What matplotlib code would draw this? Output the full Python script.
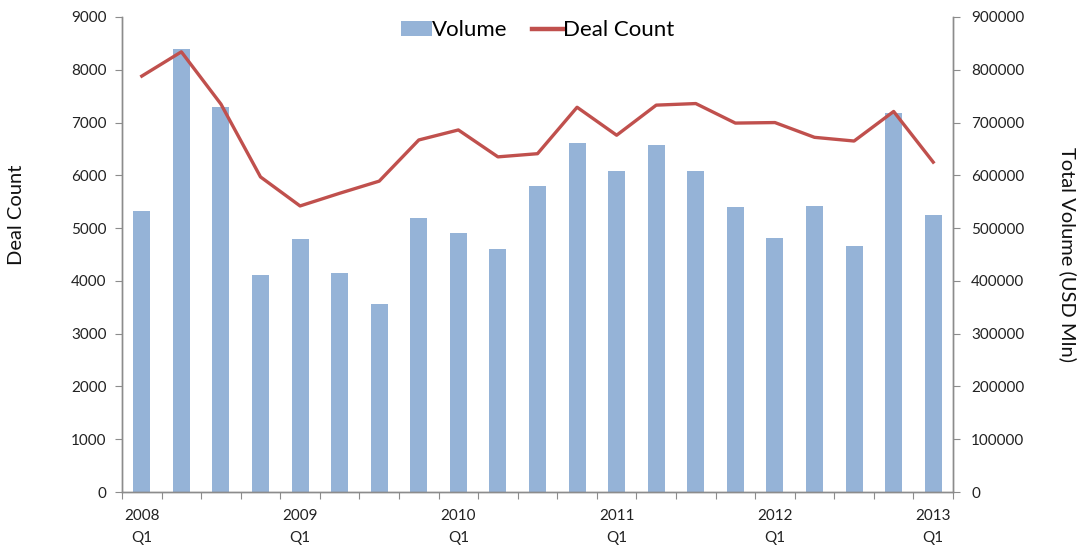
import matplotlib
matplotlib.use("Agg")
import matplotlib.pyplot as plt
from matplotlib.lines import Line2D
from matplotlib.patches import Patch
import numpy as np

plt.rcParams['font.family'] = ['Lato', 'DejaVu Sans']

quarters = ["2008 Q1", "2008 Q2", "2008 Q3", "2008 Q4",
            "2009 Q1", "2009 Q2", "2009 Q3", "2009 Q4",
            "2010 Q1", "2010 Q2", "2010 Q3", "2010 Q4",
            "2011 Q1", "2011 Q2", "2011 Q3", "2011 Q4",
            "2012 Q1", "2012 Q2", "2012 Q3", "2012 Q4",
            "2013 Q1"]
volume = [532000, 840000, 730000, 411000, 479000, 415000, 357000, 520000,
          490000, 461000, 580000, 661000, 608000, 657000, 608000, 540000,
          481000, 541000, 467000, 719000, 525000]
deal_count = [7880, 8340, 7350, 5970, 5420, 5660, 5890, 6670, 6860, 6350,
              6410, 7290, 6760, 7330, 7360, 6990, 7000, 6720, 6650, 7210, 6250]
label_positions = [0, 4, 8, 12, 16, 20]
label_texts = ["2008\nQ1", "2009\nQ1", "2010\nQ1", "2011\nQ1", "2012\nQ1", "2013\nQ1"]

bar_color = "#95B3D7"
line_color = "#C0504D"
spine_color = "#8C8C8C"

fig = plt.figure(figsize=(10.87, 5.5), dpi=100)
ax = fig.add_axes([122/1087, 1-492/550, (953-122)/1087, (492-17)/550])
ax2 = ax.twinx()

x = np.arange(len(quarters))
ax2.bar(x, volume, width=0.43, color=bar_color, zorder=2)
ax.plot(x, deal_count, color=line_color, linewidth=2.4, zorder=3,
        solid_joinstyle='round')

ax.set_zorder(ax2.get_zorder() + 1)
ax.patch.set_visible(False)

ax.set_xlim(-0.5, len(quarters) - 0.5)
ax.set_ylim(0, 9000)
ax2.set_ylim(0, 900000)
ax.set_yticks(np.arange(0, 9001, 1000))
ax2.set_yticks(np.arange(0, 900001, 100000))
ax.set_yticklabels([str(v) for v in range(0, 9001, 1000)])
ax2.set_yticklabels([str(v) for v in range(0, 900001, 100000)])

ax.set_xticks(np.arange(-0.5, len(quarters), 1.0))
ax.set_xticklabels([])
ax.set_xticks(label_positions, minor=True)
ax.set_xticklabels(label_texts, minor=True)
ax.tick_params(axis='x', which='major', length=5, color=spine_color, direction='out')
ax.tick_params(axis='x', which='minor', length=0, pad=12, labelsize=11,
               labelcolor='#222222')
ax.tick_params(axis='y', length=5, color=spine_color, labelsize=11,
               labelcolor='#222222', pad=6)
ax2.tick_params(axis='y', length=5, color=spine_color, labelsize=11,
                labelcolor='#222222', pad=8)
for lab in ax.get_xticklabels(minor=True):
    lab.set_linespacing(1.8)

for a in (ax, ax2):
    a.spines['top'].set_visible(False)
    for s in ('left', 'right', 'bottom'):
        a.spines[s].set_color(spine_color)
        a.spines[s].set_linewidth(1.0)

ax.set_ylabel("Deal Count", fontsize=14.5, color='#111111')
ax.yaxis.set_label_coords((25 - 122) / 831, (492 - 215) / 475)
ax2.set_ylabel("Total Volume (USD Mln)", fontsize=14.5, color='#111111',
               rotation=-90, va='center')
ax2.yaxis.set_label_coords((1068 - 122) / 831, 0.5)

handles = [Patch(facecolor=bar_color, edgecolor='none'),
           Line2D([0], [0], color=line_color, linewidth=3.2)]
ax.legend(handles, ["Volume", "Deal Count"], loc='upper center',
          bbox_to_anchor=(0.5, 1.035), ncol=2, frameon=False, fontsize=16,
          handlelength=1.4, handletextpad=0.0, columnspacing=1.1)

fig.savefig("out.png", dpi=100)
